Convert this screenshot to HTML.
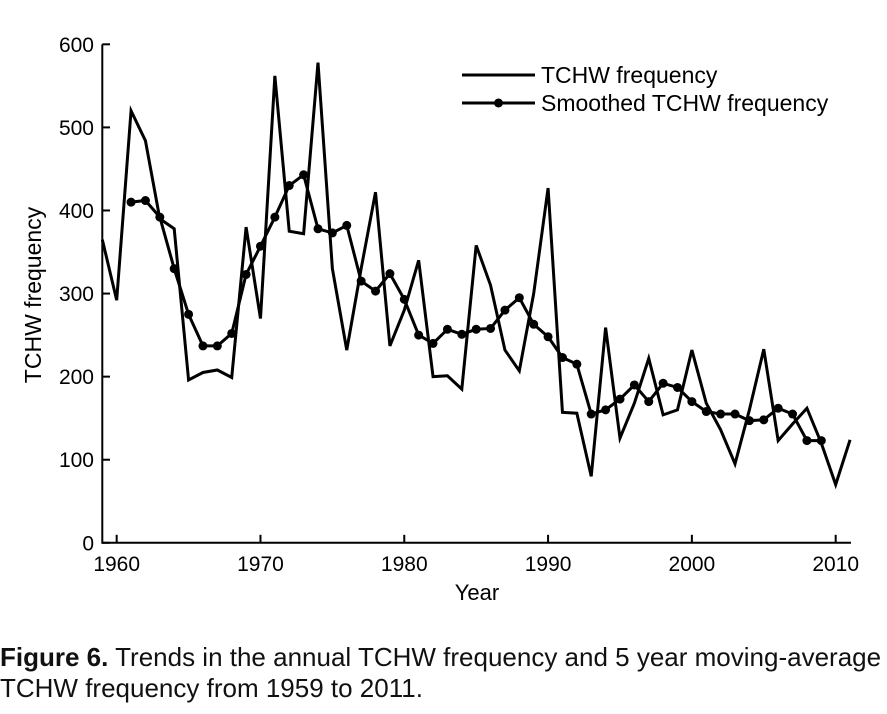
<!DOCTYPE html>
<html><head><meta charset="utf-8"><style>
body{margin:0;background:#fff;width:887px;height:714px;overflow:hidden;font-family:"Liberation Sans",sans-serif}
.cap{position:absolute;left:0;top:642px;font-size:26px;line-height:31px;color:#111;font-family:"Liberation Sans",sans-serif;white-space:nowrap}
</style></head><body>
<svg id="chart" width="887" height="620" style="position:absolute;left:0;top:0" font-family="Liberation Sans, sans-serif"></svg>
<div class="cap"><b>Figure 6.</b> Trends in the annual TCHW frequency and 5 year moving-average<br>TCHW frequency from 1959 to 2011.</div>
<script>
const years=[1959,1960,1961,1962,1963,1964,1965,1966,1967,1968,1969,1970,1971,1972,1973,1974,1975,1976,1977,1978,1979,1980,1981,1982,1983,1984,1985,1986,1987,1988,1989,1990,1991,1992,1993,1994,1995,1996,1997,1998,1999,2000,2001,2002,2003,2004,2005,2006,2007,2008,2009,2010,2011];
const freq=[365,292,520,484,390,378,196,205,208,199,380,270,562,375,372,578,330,232,330,422,237,280,340,200,201,185,358,310,232,207,300,427,157,156,80,259,126,168,222,154,160,232,168,136,95,160,233,123,143,162,120,70,124];
const smoothYears=[1961,1962,1963,1964,1965,1966,1967,1968,1969,1970,1971,1972,1973,1974,1975,1976,1977,1978,1979,1980,1981,1982,1983,1984,1985,1986,1987,1988,1989,1990,1991,1992,1993,1994,1995,1996,1997,1998,1999,2000,2001,2002,2003,2004,2005,2006,2007,2008,2009];
const smooth=[410,412,392,330,275,237,237,252,323,357,392,430,443,378,373,382,315,303,324,293,250,240,257,251,257,258,280,295,263,248,223,215,155,160,173,190,170,192,187,170,158,155,155,147,148,162,155,123,123];
const xTicks=[1960,1970,1980,1990,2000,2010];
const yTicks=[0,100,200,300,400,500,600];
const NS='http://www.w3.org/2000/svg';
const svg=document.getElementById('chart');
const X=y=>102.3+(y-1959)*14.38;
const Y=v=>542.8-v*0.8308;
function mk(t,a,p){const e=document.createElementNS(NS,t);for(const k in a)e.setAttribute(k,a[k]);(p||svg).appendChild(e);return e;}
let e;
e=mk('line',{x1:102.3,y1:Y(0),x2:851,y2:Y(0),stroke:'#000','stroke-width':2});


e=mk('line',{x1:102.3,y1:Y(0)+1,x2:102.3,y2:Y(600),stroke:'#000','stroke-width':2});


xTicks.forEach(t=>{
 e=mk('line',{x1:X(t),y1:Y(0),x2:X(t),y2:Y(0)-8,stroke:'#000','stroke-width':2});
 
 
 e=mk('text',{x:X(t),y:571,'text-anchor':'middle','font-size':21});e.textContent=t;
 
 
});
yTicks.forEach(t=>{
 e=mk('line',{x1:102.3,y1:Y(t),x2:110,y2:Y(t),stroke:'#000','stroke-width':2});
 
 
 e=mk('text',{x:94,y:Y(t)+7.5,'text-anchor':'end','font-size':21});e.textContent=t;
 
 
});
e=mk('text',{x:477,y:600,'text-anchor':'middle','font-size':22});e.textContent='Year';


e=mk('text',{x:0,y:0,'text-anchor':'middle','font-size':23,transform:'translate(41,295) rotate(-90)'});e.textContent='TCHW frequency';


e=mk('polyline',{points:years.map((y,i)=>X(y)+','+Y(freq[i])).join(' '),fill:'none',stroke:'#000','stroke-width':3,'stroke-linejoin':'miter'});


e=mk('polyline',{points:smoothYears.map((y,i)=>X(y)+','+Y(smooth[i])).join(' '),fill:'none',stroke:'#000','stroke-width':3});


smoothYears.forEach((y,i)=>{
 e=mk('circle',{cx:X(y),cy:Y(smooth[i]),r:4.5,fill:'#000'});
 
 
});
e=mk('line',{x1:462,y1:75,x2:535,y2:75,stroke:'#000','stroke-width':3});


e=mk('text',{x:541,y:83,'font-size':23});e.textContent='TCHW frequency';


e=mk('line',{x1:462,y1:103,x2:535,y2:103,stroke:'#000','stroke-width':3});


e=mk('circle',{cx:498.5,cy:103,r:4.5,fill:'#000'});


e=mk('text',{x:541,y:111,'font-size':23});e.textContent='Smoothed TCHW frequency';


</script>
</body></html>
